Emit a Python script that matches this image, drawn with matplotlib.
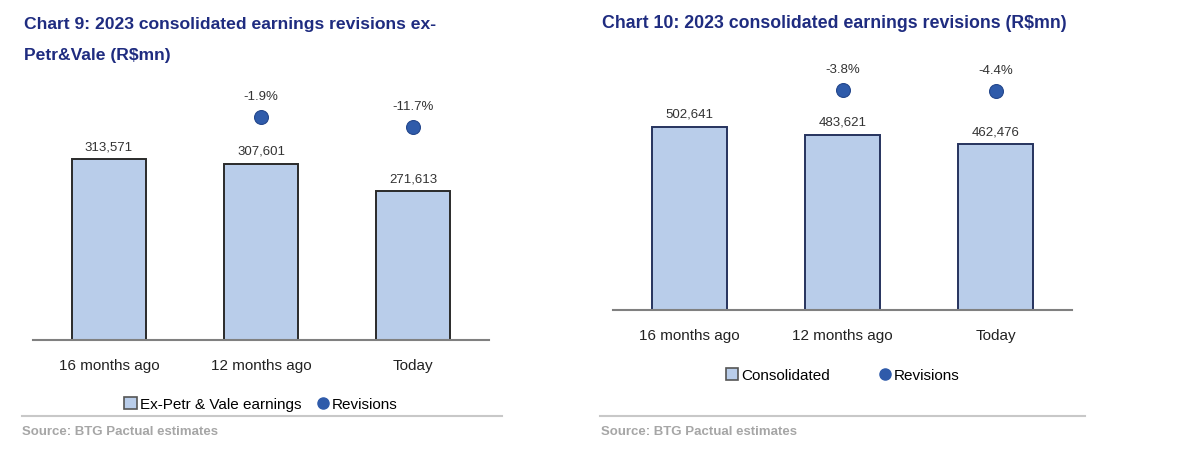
import numpy as np
import matplotlib.pyplot as plt
from matplotlib.lines import Line2D
from matplotlib.patches import Patch

periods = ['16 months ago', '12 months ago', 'Today']

exvale_earn = [313571, 307601, 271613]
exvale_rev = [-1.9, -11.7]          # 12 months ago, Today
consol_earn = [502641, 483621, 462476]
consol_rev = [-3.8, -4.4]

title_l = ['Chart 9: 2023 consolidated earnings revisions ex-', 'Petr&Vale (R$mn)']
title_r = 'Chart 10: 2023 consolidated earnings revisions (R$mn)'
source = 'Source: BTG Pactual estimates'

navy = '#1F2C80'
barfill = '#B9CDEA'
dotcol = '#2F5BAA'
narrow = ['Liberation Sans Narrow', 'Liberation Sans', 'DejaVu Sans']

W, H = 1192, 456
fig = plt.figure(figsize=(W / 100, H / 100), dpi=100)
plt.rcParams['font.family'] = ['Liberation Sans', 'DejaVu Sans']


def box(x0, y0, x1, y1):
    # pixel box (top-left origin) -> figure fraction rect
    return [x0 / W, 1 - y1 / H, (x1 - x0) / W, (y1 - y0) / H]


def draw(rect, earn, rev, ylim, ylim2, edge, bar_lab, legspace, legy):
    ax = fig.add_axes(rect)
    x = np.arange(len(periods))
    ax.bar(x, earn, 0.485, color=barfill, edgecolor=edge, linewidth=1.4, zorder=2)
    ax.set_xlim(-0.5, 2.5)
    ax.set_ylim(*ylim)
    for s in ['top', 'left', 'right']:
        ax.spines[s].set_visible(False)
    ax.spines['bottom'].set_color('#808080')
    ax.spines['bottom'].set_linewidth(1.5)
    ax.set_yticks([])
    ax.set_xticks(x)
    ax.set_xticklabels(periods, family=narrow, fontsize=11, color='#222222')
    ax.tick_params(axis='x', length=0, pad=13)
    for xi, v in zip(x, earn):
        ax.annotate(f'{v:,}', (xi, v), xytext=(0, 5), textcoords='offset points',
                    ha='center', va='bottom', family=narrow, fontsize=9.5, color='#333333')

    ax2 = ax.twinx()
    ax2.set_ylim(*ylim2)
    ax2.axis('off')
    xr = x[1:]
    ax2.plot(xr, rev, 'o', ms=10, color=dotcol, mec='#24478C', mew=0.8, zorder=3)
    for xi, v in zip(xr, rev):
        ax2.annotate(f'{v:.1f}%', (xi, v), xytext=(0, 11), textcoords='offset points',
                     ha='center', va='bottom', family=narrow, fontsize=9.5, color='#333333')

    handles = [Patch(facecolor=barfill, edgecolor='#555555', linewidth=1.2),
               Line2D([], [], marker='o', ls='', ms=8, color=dotcol)]
    fig.legend(handles, [bar_lab, 'Revisions'], loc='center',
               bbox_to_anchor=((rect[0] + rect[2] / 2), legy), ncol=2, frameon=False,
               prop={'family': narrow, 'size': 11}, handlelength=0.8, handleheight=0.8,
               handletextpad=0.2, columnspacing=legspace)
    return ax


draw(box(33, 85, 489, 341), exvale_earn, exvale_rev, (76500, 411800), (-220.4, 30.4),
     '#2A2A2A', 'Ex-Petr & Vale earnings', 1.0, 1 - 405 / H)
draw(box(613, 55, 1072, 311), consol_earn, consol_rev, (76000, 671900), (-135.8, 17.8),
     '#26335E', 'Consolidated', 3.2, 1 - 376 / H)

fig.text(24 / W, 1 - 25 / H, title_l[0], ha='left', va='center', fontsize=12.6,
         weight='bold', color=navy)
fig.text(24 / W, 1 - 56 / H, title_l[1], ha='left', va='center', fontsize=12.6,
         weight='bold', color=navy)
fig.text(602 / W, 1 - 24 / H, title_r, ha='left', va='center', fontsize=12.8,
         weight='bold', color=navy)

for x0, x1 in [(22, 502), (600, 1085)]:
    fig.add_artist(Line2D([x0 / W, x1 / W], [1 - 417 / H, 1 - 417 / H], color='#C8C8C8', lw=1.5))
fig.text(22 / W, 1 - 432 / H, source, ha='left', va='center', fontsize=9.5, weight='bold',
         color='#A6A6A6')
fig.text(601 / W, 1 - 432 / H, source, ha='left', va='center', fontsize=9.5, weight='bold',
         color='#A6A6A6')

fig.savefig('out.png', dpi=100)
